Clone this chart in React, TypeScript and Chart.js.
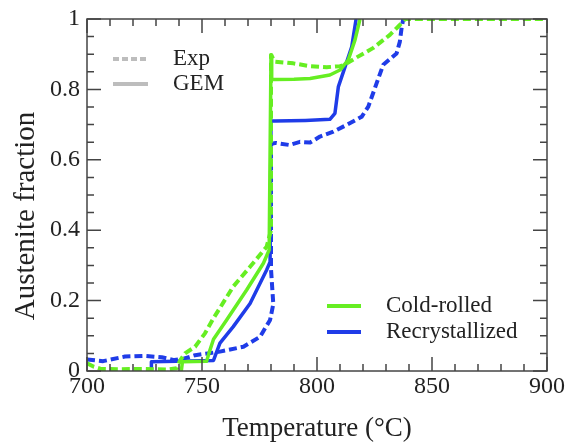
import React, { useEffect, useRef } from "react";
import { Chart, registerables } from "chart.js";

Chart.register(...registerables);

const FONT = "'Liberation Serif', 'Times New Roman', serif";
Chart.defaults.font.family = FONT;

const GREEN = "#66ee22";
const BLUE = "#1f3ce8";
const GRAY = "#bdbdbd";
const INK = "#222222";

// Axis ticks
const xTickValues = [700, 750, 800, 850, 900];
const xTickLabels = ["700", "750", "800", "850", "900"];
const yTickValues = [0, 0.2, 0.4, 0.6, 0.8, 1];
const yTickLabels = ["0", "0.2", "0.4", "0.6", "0.8", "1"];

// Cold-rolled, GEM (solid)
const crGemT = [741, 741.5, 752, 753, 755, 760.7, 769.4, 776.7, 779.2, 780, 780.3, 781.4, 790, 797, 805.6, 810, 813.6, 816.5, 818.7];
const crGemF = [0, 0.026, 0.028, 0.05, 0.09, 0.145, 0.23, 0.306, 0.344, 0.898, 0.828, 0.828, 0.829, 0.831, 0.841, 0.855, 0.884, 0.94, 1.0];

// Recrystallized, GEM (solid)
const rxGemT = [728, 728, 755, 757.8, 763.6, 770.9, 778.1, 779.6, 780, 781.7, 795, 805.6, 807.8, 809.3, 812.2, 815.1, 817];
const rxGemF = [0, 0.026, 0.03, 0.079, 0.126, 0.192, 0.287, 0.31, 0.71, 0.71, 0.712, 0.715, 0.732, 0.808, 0.864, 0.921, 1.0];

// Cold-rolled, Exp (dashed)
const crExpT = [700, 703, 706, 715, 725, 735, 739, 740.5, 742.6, 747, 751.3, 755, 763.6, 770.9, 778.1, 780, 780, 781.7, 789.7, 797, 804.2, 810, 812, 817, 824.5, 831.7, 836, 838.3, 860, 880, 900];
const crExpF = [0.022, 0.012, 0.006, 0.005, 0.006, 0.004, 0.008, 0.03, 0.05, 0.069, 0.107, 0.15, 0.24, 0.296, 0.353, 0.4, 0.898, 0.879, 0.874, 0.866, 0.863, 0.866, 0.87, 0.89, 0.918, 0.955, 0.983, 1.0, 1.0, 1.0, 1.0];

// Recrystallized, Exp (dashed)
const rxExpT = [700, 707, 716.5, 725, 732.5, 738, 742, 747, 752.6, 757.8, 768, 775.2, 779.6, 781, 780.5, 780, 780, 782, 788, 792.6, 797, 801.3, 807.1, 812.9, 819.4, 822.3, 825.9, 828.8, 834.6, 836, 836.8, 837.5];
const rxExpF = [0.033, 0.028, 0.041, 0.043, 0.039, 0.031, 0.035, 0.045, 0.05, 0.055, 0.069, 0.097, 0.145, 0.19, 0.24, 0.29, 0.645, 0.648, 0.642, 0.651, 0.649, 0.666, 0.68, 0.699, 0.722, 0.751, 0.817, 0.87, 0.902, 0.935, 0.975, 1.0];

const zip = (t: number[], f: number[]) => t.map((x, i) => ({ x, y: f[i] }));

const decorPlugin = {
  id: "decor",
  afterDatasetsDraw(chart: any) {
    const { ctx, chartArea } = chart;
    const { left, right, top, bottom } = chartArea;
    const xs = chart.scales.x;
    const ys = chart.scales.y;
    ctx.save();
    ctx.strokeStyle = "#444";
    ctx.lineWidth = 1.5;
    ctx.strokeRect(left, top, right - left, bottom - top);
    ctx.beginPath();
    for (let v = 700; v <= 900; v += 10) {
      const px = xs.getPixelForValue(v);
      const len = v % 50 === 0 ? 14 : 7;
      ctx.moveTo(px, bottom);
      ctx.lineTo(px, bottom - len);
      ctx.moveTo(px, top);
      ctx.lineTo(px, top + len);
    }
    for (let i = 0; i <= 20; i++) {
      const py = ys.getPixelForValue(i / 20);
      const len = i % 4 === 0 ? 14 : 7;
      ctx.moveTo(left, py);
      ctx.lineTo(left + len, py);
      ctx.moveTo(right, py);
      ctx.lineTo(right - len, py);
    }
    ctx.stroke();

    // Tick labels
    ctx.fillStyle = INK;
    ctx.font = `24px ${FONT}`;
    ctx.textBaseline = "middle";
    ctx.textAlign = "center";
    xTickValues.forEach((v, i) => {
      ctx.fillText(xTickLabels[i], xs.getPixelForValue(v), bottom + 16);
    });
    ctx.textAlign = "right";
    yTickValues.forEach((v, i) => {
      ctx.fillText(yTickLabels[i], left - 7, ys.getPixelForValue(v));
    });

    // Style legend (top-left)
    ctx.lineWidth = 4;
    ctx.strokeStyle = GRAY;
    ctx.setLineDash([6, 3]);
    ctx.beginPath();
    ctx.moveTo(left + 26, top + 40);
    ctx.lineTo(left + 61, top + 40);
    ctx.stroke();
    ctx.setLineDash([]);
    ctx.beginPath();
    ctx.moveTo(left + 26, top + 65);
    ctx.lineTo(left + 61, top + 65);
    ctx.stroke();

    ctx.font = `23px ${FONT}`;
    ctx.textAlign = "left";
    ctx.fillText("Exp", left + 86, top + 40);
    ctx.fillText("GEM", left + 86, top + 65);

    // Series legend (bottom-right)
    ctx.lineWidth = 4;
    ctx.strokeStyle = GREEN;
    ctx.beginPath();
    ctx.moveTo(327, 306);
    ctx.lineTo(361, 306);
    ctx.stroke();
    ctx.strokeStyle = BLUE;
    ctx.beginPath();
    ctx.moveTo(327, 332);
    ctx.lineTo(361, 332);
    ctx.stroke();
    ctx.fillText("Cold-rolled", 386, 306);
    ctx.fillText("Recrystallized", 386, 332);

    // Axis titles
    ctx.font = `27px ${FONT}`;
    ctx.textAlign = "center";
    ctx.fillText("Temperature (\u00B0C)", (left + right) / 2, 429);
    ctx.font = `29px ${FONT}`;
    ctx.translate(26, 216);
    ctx.rotate(-Math.PI / 2);
    ctx.fillText("Austenite fraction", 0, 0);
    ctx.restore();
  },
};

export default function App() {
  const ref = useRef<HTMLCanvasElement | null>(null);
  useEffect(() => {
    if (!ref.current) return;
    const chart = new Chart(ref.current, {
      type: "line",
      data: {
        datasets: [
          { label: "Cold-rolled GEM", data: zip(crGemT, crGemF), borderColor: GREEN, borderWidth: 3.5 },
          { label: "Cold-rolled Exp", data: zip(crExpT, crExpF), borderColor: GREEN, borderWidth: 4, borderDash: [8, 4] },
          { label: "Recrystallized GEM", data: zip(rxGemT, rxGemF), borderColor: BLUE, borderWidth: 3.5 },
          { label: "Recrystallized Exp", data: zip(rxExpT, rxExpF), borderColor: BLUE, borderWidth: 4, borderDash: [8, 4] },
        ] as any,
      },
      options: {
        animation: false,
        responsive: true,
        maintainAspectRatio: false,
        parsing: false as any,
        elements: {
          point: { radius: 0 },
          line: { tension: 0, fill: false, borderJoinStyle: "round", borderCapStyle: "butt" },
        },
        layout: { padding: { top: 19, right: 18, left: 0, bottom: 0 } },
        plugins: { legend: { display: false }, tooltip: { enabled: false } },
        scales: {
          x: {
            type: "linear",
            min: 700,
            max: 900,
            afterBuildTicks: (s: any) => {
              s.ticks = xTickValues.map((v) => ({ value: v }));
            },
            afterFit: (s: any) => {
              s.height = 71;
            },
            ticks: { display: false },
            grid: { display: false, drawTicks: false },
            border: { display: false },
          },
          y: {
            type: "linear",
            min: 0,
            max: 1,
            afterBuildTicks: (s: any) => {
              s.ticks = yTickValues.map((v) => ({ value: v }));
            },
            afterFit: (s: any) => {
              s.width = 87;
            },
            ticks: { display: false },
            grid: { display: false, drawTicks: false },
            border: { display: false },
          },
        },
      } as any,
      plugins: [decorPlugin],
    });
    return () => chart.destroy();
  }, []);
  return (
    <div style={{ position: "fixed", left: 0, top: 0, width: 565, height: 442, background: "#fff" }}>
      <canvas ref={ref} />
    </div>
  );
}
